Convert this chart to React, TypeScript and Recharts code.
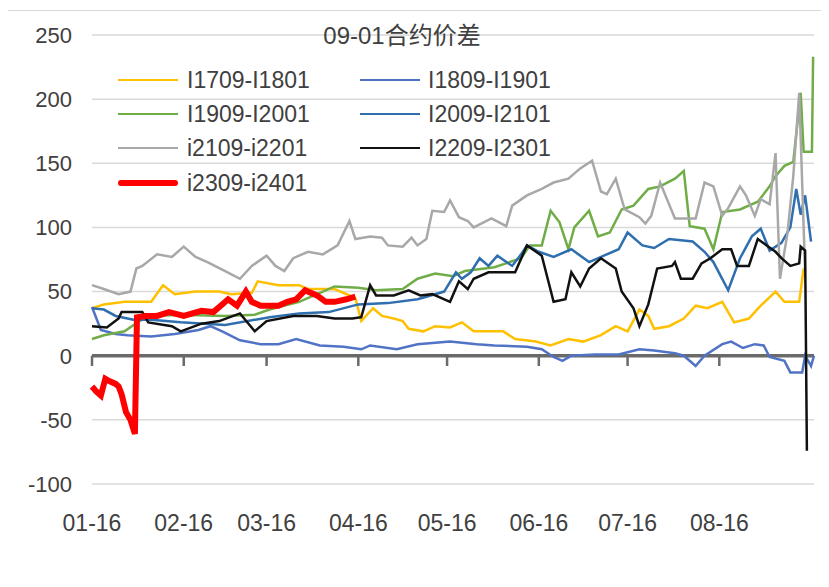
import React from 'react';
import { LineChart, Line, XAxis, YAxis, CartesianGrid, ReferenceLine } from 'recharts';

// x = days since 16 Jan, y = spread
const tickDays = [0, 31, 59, 90, 120, 151, 181, 212];
const tickLabels = ['01-16', '02-16', '03-16', '04-16', '05-16', '06-16', '07-16', '08-16'];
const yTicks = [-100, -50, 0, 50, 100, 150, 200, 250];
const xDomain: [number, number] = [0, 244];

const s1709: [number, number][] = [
  [0, 37], [4, 40], [11, 42], [20, 42], [24, 55], [28, 48], [35, 50], [43, 50], [47, 48], [54, 49],
  [56, 58], [63, 55], [70, 55], [73, 52], [82, 52], [89, 45], [91, 27], [95, 37], [98, 31], [102, 29],
  [105, 27], [107, 21], [112, 19], [116, 23], [121, 22], [125, 26], [129, 19], [136, 19], [139, 19], [143, 13],
  [150, 11], [155, 8], [161, 13], [166, 11], [172, 16], [177, 23], [181, 19], [185, 36], [188, 31], [190, 21],
  [195, 23], [200, 29], [204, 39], [208, 37], [213, 42], [217, 26], [222, 29], [226, 39], [231, 50], [234, 42],
  [239, 42], [240.5, 68],
];

const s1809: [number, number][] = [
  [0, 38], [3, 20], [8, 17], [12, 16], [20, 15], [28, 17], [36, 20], [40, 23], [44, 19], [50, 12],
  [57, 9], [63, 9], [69, 13], [77, 8], [85, 7], [91, 5], [94, 8], [103, 5], [110, 9], [121, 11],
  [130, 9], [136, 8], [147, 7], [152, 5], [156, -1], [159, -4], [162, 0], [170, 1], [178, 1], [185, 5],
  [190, 4], [197, 2], [200, 0], [204, -8], [207, 0], [213, 9], [216, 11], [220, 6], [224, 9], [227, 8],
  [229, -1], [234, -4], [236, -13], [240, -13], [241, 0], [243, -8], [244, 0],
];

const s1909: [number, number][] = [
  [0, 13], [4, 16], [11, 19], [16, 27], [20, 31], [30, 32], [45, 31], [55, 32], [60, 36], [70, 42],
  [78, 50], [82, 54], [90, 53], [96, 51], [105, 52], [110, 60], [116, 64], [122, 62], [126, 66], [136, 69],
  [145, 76], [148, 86], [152, 86], [155, 113], [158, 104], [161, 83], [163, 100], [168, 113], [171, 93], [175, 96],
  [179, 114], [183, 117], [188, 130], [192, 132], [197, 138], [200, 144], [202, 101], [207, 99], [210, 83], [213, 112],
  [219, 114], [225, 120], [229, 132], [231, 140], [234, 148], [237, 151], [239.5, 205], [240.5, 159], [243.3, 159], [243.7, 233],
];

const s2009: [number, number][] = [
  [0, 37], [4, 36], [8, 31], [14, 28], [20, 28], [30, 26], [45, 24], [60, 30], [70, 33], [80, 34],
  [90, 40], [100, 41], [110, 44], [113, 46], [119, 50], [123, 65], [125, 60], [128, 65], [131, 76], [134, 70],
  [137, 78], [142, 70], [145, 79], [147, 86], [151, 81], [156, 77], [162, 83], [168, 73], [173, 78], [178, 83],
  [181, 96], [186, 86], [190, 84], [195, 91], [203, 89], [207, 81], [210, 73], [215, 51], [219, 76], [223, 93],
  [226, 99], [229, 82], [233, 88], [236, 100], [238, 130], [239.5, 110], [241, 125], [243, 89],
];

const s2109: [number, number][] = [
  [0, 55], [4, 52], [9, 48], [13, 50], [15, 68], [17, 70], [22, 79], [27, 77], [31, 85], [35, 77],
  [39, 73], [45, 66], [50, 60], [54, 70], [59, 78], [62, 70], [65, 66], [68, 76], [73, 81], [78, 79],
  [83, 86], [87, 105], [89, 91], [94, 93], [98, 92], [100, 86], [105, 85], [108, 92], [110, 86], [113, 91],
  [115, 113], [119, 112], [121, 121], [124, 108], [127, 105], [129, 100], [135, 107], [140, 101], [142, 117], [147, 125],
  [152, 130], [156, 135], [161, 138], [165, 146], [169, 152], [172, 128], [174, 126], [177, 138], [180, 114], [185, 108],
  [187, 103], [189, 109], [192, 135], [197, 107], [204, 107], [207, 135], [210, 132], [213, 109], [215, 115], [219, 132],
  [221, 125], [224, 109], [226, 122], [229, 118], [231, 158], [232.5, 60], [235, 95], [237, 140], [239, 205], [241, 65],
];

const s2209: [number, number][] = [
  [0, 23], [5, 22], [9, 29], [10, 34], [17, 34], [19, 26], [27, 23], [30, 19], [37, 25], [43, 27],
  [50, 33], [55, 19], [59, 27], [68, 31], [76, 31], [82, 29], [88, 29], [91, 30], [94, 55], [96, 47],
  [102, 47], [107, 51], [111, 47], [115, 48], [121, 42], [124, 58], [127, 52], [129, 60], [134, 65], [138, 65],
  [143, 65], [147, 86], [152, 78], [154, 60], [156, 42], [160, 44], [162, 65], [165, 54], [168, 68], [172, 76],
  [177, 68], [179, 50], [183, 37], [185, 23], [188, 40], [191, 68], [196, 70], [197, 73], [199, 60], [203, 60],
  [206, 72], [209, 76], [213, 83], [216, 83], [218, 70], [222, 70], [225, 91], [228, 86], [231, 81], [233, 76],
  [236, 70], [239, 72], [239.5, 85], [241, 82], [241.6, -74],
];

const s2309: [number, number][] = [
  [0, -24], [1.5, -28], [3, -31], [4.5, -18], [6, -20], [8, -22], [9, -24], [10, -30], [11.5, -44], [13, -50],
  [14.5, -61], [15.2, 30], [18, 31], [22, 31], [26, 34], [31, 31], [37, 35], [41, 34], [44, 40], [46, 44],
  [49, 39], [52, 50], [54, 42], [57, 39], [63, 39], [66, 42], [69, 44], [72, 51], [76, 47], [79, 42],
  [82, 42], [86, 44], [89, 46],
];

const series = [
  { name: 'I1709-I1801', color: '#FFC000', width: 2.5, points: s1709 },
  { name: 'I1809-I1901', color: '#5173C6', width: 2.5, points: s1809 },
  { name: 'I1909-I2001', color: '#70AD47', width: 2.5, points: s1909 },
  { name: 'I2009-I2101', color: '#2F6FB0', width: 2.5, points: s2009 },
  { name: 'i2109-i2201', color: '#A8A8A8', width: 2.5, points: s2109 },
  { name: 'I2209-I2301', color: '#111111', width: 2.5, points: s2209 },
  { name: 'i2309-i2401', color: '#FF0000', width: 6, points: s2309 },
];

const font = '"Liberation Sans", Arial, "Noto Sans CJK SC", sans-serif';
const axisColor = '#6a6a6a';

const legendCols = [
  { line: 110, text: 179 },
  { line: 352, text: 420 },
];
const legendRows = [69, 103, 137, 172];

const App: React.FC = () => {
  return (
    <div
      style={{
        position: 'relative',
        top: 2,
        left: -1,
        width: 815,
        height: 573,
        border: '1px solid #d9d9d9',
        background: '#fff',
        fontFamily: font,
      }}
    >
      <LineChart
        width={815}
        height={560}
        margin={{ top: 24, right: 9, bottom: 27, left: 0 }}
        style={{ fontFamily: font }}
      >
        <CartesianGrid vertical={false} stroke="#d9d9d9" strokeWidth={1.5} />
        <XAxis
          type="number"
          dataKey="d"
          domain={xDomain}
          ticks={tickDays}
          interval={0}
          tickFormatter={(v: number) => tickLabels[tickDays.indexOf(v)] ?? ''}
          axisLine={false}
          tickLine={false}
          tickSize={0}
          tickMargin={31}
          height={60}
          tick={{ fill: '#404040', fontSize: 23 }}
        />
        <YAxis
          type="number"
          dataKey="v"
          domain={[-100, 250]}
          ticks={yTicks}
          interval={0}
          axisLine={false}
          tickLine={false}
          tickSize={0}
          tickMargin={20}
          width={84}
          tick={{ fill: '#404040', fontSize: 22 }}
        />
        {/* horizontal axis sits on the zero line, with month tick marks below it */}
        <ReferenceLine y={0} stroke={axisColor} strokeWidth={3.5} />
        {tickDays.map((d) => (
          <ReferenceLine
            key={`tick-${d}`}
            segment={[{ x: d, y: 0 }, { x: d, y: -8 }]}
            stroke={axisColor}
            strokeWidth={2.5}
          />
        ))}
        {series.map((s) => (
          <Line
            key={s.name}
            name={s.name}
            data={s.points.map(([d, v]) => ({ d, v }))}
            dataKey="v"
            type="linear"
            stroke={s.color}
            strokeWidth={s.width}
            dot={false}
            activeDot={false}
            isAnimationActive={false}
          />
        ))}
      </LineChart>

      <div
        style={{
          position: 'absolute',
          left: 0,
          top: 13,
          width: 788,
          textAlign: 'center',
          fontSize: 24,
          lineHeight: '24px',
          color: '#404040',
          fontFamily: font,
        }}
      >
        09-01合约价差
      </div>

      {series.map((s, i) => {
        const col = legendCols[i % 2];
        const cy = legendRows[Math.floor(i / 2)];
        return (
          <React.Fragment key={s.name}>
            <div
              style={{
                position: 'absolute',
                left: col.line,
                top: cy - s.width / 2,
                width: 60,
                height: s.width,
                background: s.color,
                borderRadius: s.width > 3 ? 3 : 0,
              }}
            />
            <div
              style={{
                position: 'absolute',
                left: col.text,
                top: cy - 12,
                fontSize: 23,
                lineHeight: '24px',
                color: '#404040',
                whiteSpace: 'nowrap',
              }}
            >
              {s.name}
            </div>
          </React.Fragment>
        );
      })}
    </div>
  );
};

export default App;
